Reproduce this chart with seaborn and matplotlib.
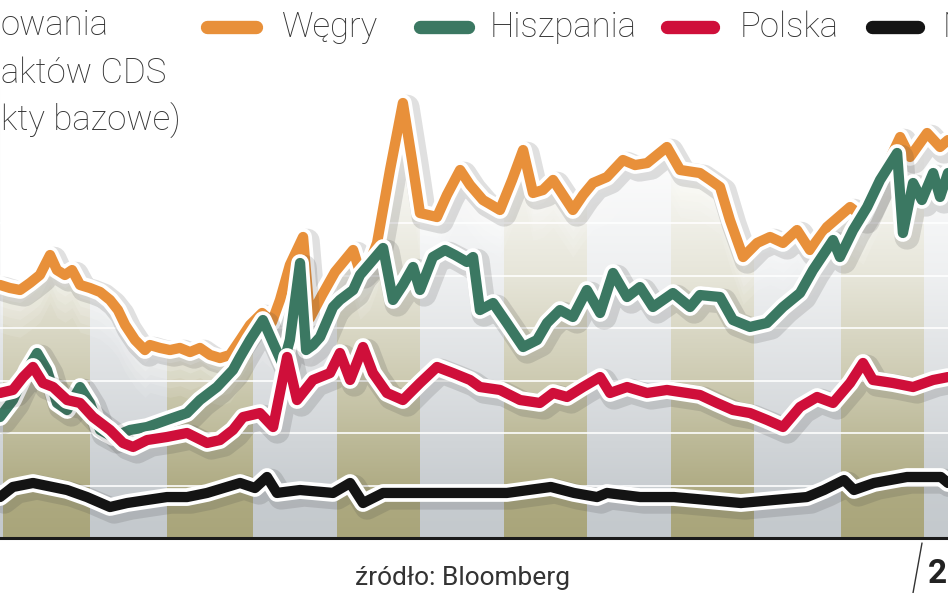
import numpy as np
import pandas as pd
import matplotlib
matplotlib.use("Agg")
import matplotlib.pyplot as plt
import matplotlib.patheffects as pe
from matplotlib.lines import Line2D
import seaborn as sns

# ---------------- data (days from start of period, CDS in basis points) ----------------
kraje = ["Węgry", "Hiszpania", "Polska", "Niemcy"]
kolory = ["#e8903a", "#3b7862", "#cf0f3a", "#141414"]

wegry_dni = [0, 3.6, 7.3, 10.9, 14.5, 18.2, 20.7, 23.6, 26.2, 29.1, 32.7, 36.4, 40.0, 42.9,
             45.5, 49.1, 52.7, 54.5, 58.2, 61.8, 65.4, 69.1, 72.7, 76.4, 80.0, 83.6, 87.3,
             90.9, 95.3, 98.9, 101.8, 105.4, 110.2, 112.7, 117.1, 121.8, 128.4, 130.9, 134.5,
             137.1, 141.8, 146.5, 149.8, 152.7, 158.9, 162.5, 167.3, 170.9, 175.6, 181.8,
             186.2, 190.2, 193.8, 197.4, 201.1, 204.7, 208.3, 212.0, 215.6, 220.7, 226.5,
             230.9, 235.3, 238.9, 242.5, 247.3, 254.5, 258.2, 261.8, 265.4, 270.2, 275.3,
             280.0, 284.7, 289.8, 294.5, 300.7, 309.1, 313.8, 320.0, 327.3, 330.9, 337.1,
             341.8, 344.7]
wegry_bp = [241.0, 238.1, 236.2, 242.9, 250.5, 269.5, 255.2, 250.5, 255.2, 241.0, 238.1,
            234.3, 226.7, 217.1, 202.9, 188.6, 179.0, 183.8, 181.0, 179.0, 181.0, 177.1,
            181.0, 174.3, 171.4, 174.3, 188.6, 202.9, 214.3, 205.7, 226.7, 260.0, 286.7,
            209.5, 231.4, 253.3, 274.3, 253.3, 262.9, 281.0, 350.5, 414.3, 360.0, 309.5,
            305.7, 326.7, 350.5, 336.2, 321.9, 312.4, 341.0, 369.5, 328.6, 331.4, 341.0,
            326.7, 312.4, 326.7, 338.1, 343.8, 360.0, 355.2, 357.1, 364.8, 372.4, 350.5,
            347.6, 341.0, 334.3, 302.9, 267.6, 281.0, 286.7, 281.0, 293.3, 274.3, 296.2,
            315.2, 305.7, 341.0, 381.9, 362.9, 385.7, 372.4, 379.0]

hiszpania_dni = [0, 4.7, 9.8, 13.5, 17.1, 20.7, 24.4, 29.1, 32.7, 36.4, 41.1, 47.3, 53.5,
                 60.7, 68.0, 72.7, 78.9, 84.7, 87.3, 90.9, 95.6, 99.3, 102.9, 105.4, 109.1,
                 111.3, 113.8, 116.4, 121.1, 123.6, 128.4, 130.9, 133.4, 139.3, 142.9, 146.5,
                 150.2, 152.7, 157.4, 161.8, 165.4, 169.8, 172.0, 174.5, 179.3, 184.3, 190.2,
                 195.3, 198.9, 203.6, 208.3, 213.4, 218.2, 222.9, 228.0, 232.7, 237.4, 244.7,
                 250.9, 254.5, 261.8, 266.5, 272.7, 278.9, 284.7, 290.9, 295.6, 302.9, 305.4,
                 310.2, 315.3, 320.0, 326.2, 328.3, 332.0, 335.2, 339.3, 341.8, 344.7]
hiszpania_bp = [115.2, 131.4, 160.0, 176.2, 160.0, 128.6, 121.9, 143.8, 128.6, 102.9, 96.2,
                102.9, 105.7, 112.4, 119.0, 131.4, 143.8, 160.0, 172.4, 188.6, 207.6, 185.7,
                164.8, 188.6, 261.9, 179.0, 183.8, 191.4, 220.0, 226.7, 236.2, 250.5, 258.1,
                276.2, 226.7, 241.0, 258.1, 236.2, 267.6, 274.3, 269.5, 262.9, 267.6, 217.1,
                223.8, 204.8, 181.9, 188.6, 204.8, 217.1, 210.5, 236.2, 214.3, 252.4, 229.5,
                239.0, 220.0, 233.3, 220.0, 231.4, 229.5, 207.6, 201.0, 204.8, 220.0, 233.3,
                255.2, 283.8, 267.6, 293.3, 315.2, 341.0, 366.7, 290.5, 338.1, 321.9, 347.6,
                324.8, 347.6]

polska_dni = [0, 4.7, 8.4, 12.0, 15.6, 19.3, 24.4, 29.1, 33.8, 40.0, 44.7, 48.4, 53.5, 60.7,
              68.0, 75.3, 80.0, 84.7, 88.4, 94.5, 99.3, 104.4, 108.0, 113.8, 120.0, 123.6,
              127.3, 132.0, 135.6, 140.7, 146.5, 152.7, 158.9, 164.7, 170.9, 174.5, 181.8,
              189.1, 196.3, 201.1, 206.2, 212.0, 218.2, 221.8, 228.0, 235.3, 242.5, 249.8,
              254.5, 260.7, 266.5, 272.7, 278.9, 284.7, 290.9, 297.1, 302.9, 309.1, 313.8,
              317.4, 324.7, 332.0, 339.3, 344.7]
polska_bp = [138.1, 141.0, 153.3, 162.9, 147.6, 143.8, 131.4, 128.6, 115.2, 102.9, 90.5,
             86.7, 93.3, 96.2, 100.0, 90.5, 93.3, 102.9, 115.2, 119.0, 105.7, 172.4, 131.4,
             150.5, 157.1, 176.2, 150.5, 181.9, 157.1, 138.1, 131.4, 147.6, 162.9, 157.1,
             150.5, 143.8, 141.0, 131.4, 128.6, 138.1, 134.3, 143.8, 153.3, 138.1, 143.8,
             138.1, 141.0, 138.1, 136.2, 128.6, 121.9, 119.0, 112.4, 105.7, 124.8, 134.3,
             128.6, 147.6, 166.7, 150.5, 147.6, 143.8, 150.5, 153.3]

niemcy_dni = [0, 4.7, 12.0, 24.4, 31.6, 40.0, 46.2, 53.5, 60.7, 68.0, 75.3, 82.5, 87.3, 92.7,
              97.1, 100.7, 109.1, 121.1, 127.3, 132.0, 139.3, 151.6, 172.3, 184.3, 200.3,
              208.7, 217.1, 220.7, 232.7, 245.1, 257.1, 269.4, 281.4, 293.4, 299.6, 306.9,
              310.5, 317.8, 329.8, 342.1, 344.7]
niemcy_bp = [39.0, 48.6, 52.4, 45.7, 39.0, 29.5, 33.3, 36.2, 39.0, 39.0, 42.9, 48.6, 52.4,
             47.6, 58.1, 42.9, 45.7, 42.9, 52.4, 33.3, 42.9, 42.9, 42.9, 42.9, 48.6, 42.9,
             39.0, 42.9, 39.0, 39.0, 36.2, 33.3, 36.2, 39.0, 45.7, 55.2, 45.7, 52.4, 58.1,
             58.1, 52.4]

miesiace_granice = [1.1, 32.7, 60.7, 92.0, 122.5, 152.7, 183.3, 213.4, 244.0, 274.2, 305.8, 336.0]
siatka_bp = [50, 100, 150, 200, 250, 300]

tytul = ["owania", "aktów CDS", "kty bazowe)"]
zrodlo = "źródło: Bloomberg"
rok = "2"

# ---------------- figure ----------------
sns.set_theme(style="white")
plt.rcParams['font.family'] = ['Roboto', 'DejaVu Sans']

W, H = 948, 593
fig = plt.figure(figsize=(W / 100, H / 100), dpi=100)
fig.patch.set_facecolor("white")
ax = fig.add_axes([0, 1 - 538 / H, 1, 538 / H])
xmax, ymax = 344.7, 512.4

olive = "#a9a57a"
grey = "#c4c9cd"
edges = [0] + miesiace_granice + [xmax]
for i in range(len(edges) - 1):
    ax.axvspan(edges[i], edges[i + 1], color=olive if i % 2 == 1 else grey, lw=0, zorder=0)

# fade to white towards the top
yy = np.linspace(0, ymax, 400)
alpha = np.interp(yy, [0, 40, 150, 250, 350, 430], [0.0, 0.05, 0.42, 0.72, 0.93, 1.0])
img = np.ones((400, 2, 4))
img[..., 3] = alpha[:, None]
ax.imshow(img, extent=[0, xmax, 0, ymax], origin="lower", aspect="auto",
          zorder=1, interpolation="bilinear")

ax.hlines(siatka_bp, 0, xmax, colors="white", linewidth=1.3, alpha=0.9, zorder=2)

# white glow above the top line
xo = np.array(wegry_dni)
yo = np.array(wegry_bp)
for d, al in [(45, 0.1), (36, 0.1), (28, 0.12), (20, 0.15), (12, 0.25), (4, 0.4), (-8, 1.0)]:
    ax.fill_between(xo, yo - d, ymax, color="white", alpha=al, lw=0, zorder=3)

df = pd.concat([
    pd.DataFrame({"dzien": wegry_dni, "bp": wegry_bp, "kraj": kraje[0]}),
    pd.DataFrame({"dzien": hiszpania_dni, "bp": hiszpania_bp, "kraj": kraje[1]}),
    pd.DataFrame({"dzien": polska_dni, "bp": polska_bp, "kraj": kraje[2]}),
    pd.DataFrame({"dzien": niemcy_dni, "bp": niemcy_bp, "kraj": kraje[3]}),
], ignore_index=True)

n0 = len(ax.lines)
sns.lineplot(data=df, x="dzien", y="bp", hue="kraj", hue_order=kraje, palette=kolory,
             linewidth=7.4, estimator=None, sort=False, legend=False, ax=ax)
effects = [
    pe.SimpleLineShadow(offset=(3, -3), shadow_color="#404040", alpha=0.16, linewidth=18),
    pe.Stroke(linewidth=12.8, foreground="white"),
    pe.Normal(),
]
for i, ln in enumerate(ax.lines[n0:]):
    ln.set_path_effects(effects)
    ln.set_solid_capstyle("round")
    ln.set_solid_joinstyle("round")
    ln.set_zorder(5 + i)

ax.set_xlim(0, xmax)
ax.set_ylim(0, ymax)
ax.set_xticks([])
ax.set_yticks([])
ax.set_xlabel("")
ax.set_ylabel("")
for s in ["top", "left", "right"]:
    ax.spines[s].set_visible(False)
ax.spines["bottom"].set_color("#1a1a1a")
ax.spines["bottom"].set_linewidth(2.2)
ax.spines["bottom"].set_zorder(20)

# ---------------- texts ----------------
txtc = "#333333"
for txt, base in zip(tytul, [35, 83, 131]):
    fig.text(1 / W, 1 - base / H, txt, fontsize=25, color=txtc, va="baseline", ha="left",
             fontweight="light")

sw = [(207, 256), (420, 468), (667, 713), (872, 918)]
tx = [282, 490, 740, 943]
for (x0, x1), t, k, c in zip(sw, tx, kraje, kolory):
    fig.add_artist(Line2D([x0 / W, x1 / W], [1 - 27 / H, 1 - 27 / H], color=c, lw=9.6,
                          solid_capstyle="round", transform=fig.transFigure))
    fig.text(t / W, 1 - 37 / H, k, fontsize=25, color=txtc, va="baseline", ha="left",
             fontweight="light")

fig.text(355 / W, 1 - 585 / H, zrodlo, fontsize=19, color=txtc, va="baseline", ha="left")
fig.add_artist(Line2D([922 / W, 913 / W], [1 - 543 / H, 0], color="#333333", lw=1.0,
                      transform=fig.transFigure))
fig.text(928 / W, 1 - 583 / H, rok, fontsize=24, color="#222222", va="baseline", ha="left",
         fontweight="bold")

fig.savefig("out.png", dpi=100, facecolor="white")
